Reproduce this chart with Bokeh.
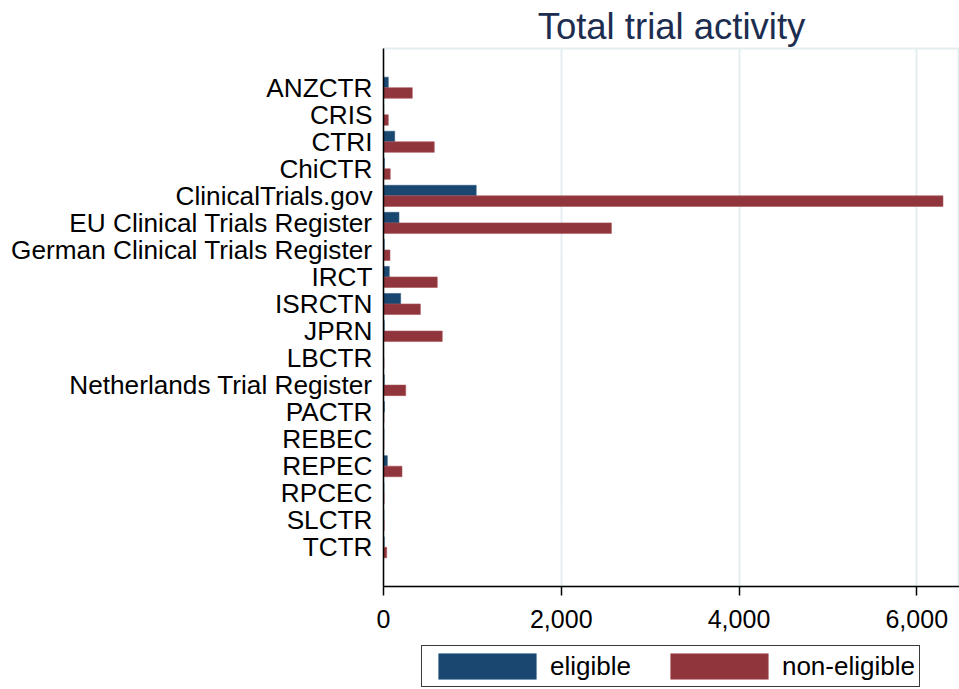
from bokeh.plotting import figure
from bokeh.layouts import column
from bokeh.models import ColumnDataSource, FactorRange, Range1d, FixedTicker, NumeralTickFormatter, Legend, LegendItem
from bokeh.transform import dodge
from bokeh.embed import file_html
from bokeh.resources import INLINE

registries = ["ANZCTR", "CRIS", "CTRI", "ChiCTR", "ClinicalTrials.gov",
              "EU Clinical Trials Register", "German Clinical Trials Register",
              "IRCT", "ISRCTN", "JPRN", "LBCTR", "Netherlands Trial Register",
              "PACTR", "REBEC", "REPEC", "RPCEC", "SLCTR", "TCTR"]
eligible = [54, 2, 126, 10, 1043, 174, 8, 65, 193, 8, 1, 8, 10, 5, 43, 5, 5, 8]
non_eligible = [324, 54, 571, 76, 6295, 2564, 73, 605, 415, 661, 5, 250, 5, 5, 208, 7, 7, 36]
x_ticks = [0, 2000, 4000, 6000]
series_labels = ["eligible", "non-eligible"]

BLUE = "#1a476f"
RED = "#90353b"
FONT = "Liberation Sans"

src = ColumnDataSource(dict(reg=registries, eligible=eligible, non_eligible=non_eligible))

p = figure(width=959, height=640, output_backend="svg", toolbar_location=None,
           y_range=FactorRange(factors=list(reversed(registries)), range_padding=0.95,
                               range_padding_units="absolute"),
           x_range=Range1d(0, 6481),
           min_border_left=383, min_border_right=0, min_border_top=48, min_border_bottom=54)

r1 = p.hbar(y=dodge("reg", 0.195, range=p.y_range), right="eligible", left=0, height=0.39,
            source=src, fill_color=BLUE, line_color="#2a5a85", line_width=0.6)
r2 = p.hbar(y=dodge("reg", -0.195, range=p.y_range), right="non_eligible", left=0, height=0.39,
            source=src, fill_color=RED, line_color="#a8545a", line_width=0.6)

p.title.text = "Total trial activity"
p.title.align = "center"
p.title.offset = 4
p.title.text_font = FONT
p.title.text_font_size = "36.5px"
p.title.text_font_style = "normal"
p.title.text_color = "#1c2d4f"
p.title.standoff = 3

p.outline_line_color = "#e4eef0"
p.outline_line_width = 2
p.ygrid.grid_line_color = None
p.xgrid.grid_line_color = "#e4eef0"
p.xgrid.grid_line_width = 2
p.xgrid.ticker = FixedTicker(ticks=x_ticks)

p.xaxis.ticker = FixedTicker(ticks=x_ticks)
p.xaxis.formatter = NumeralTickFormatter(format="0,0")
p.xaxis.major_label_text_font = FONT
p.xaxis.major_label_text_font_size = "25px"
p.xaxis.major_label_text_color = "black"
p.xaxis.major_tick_out = 9
p.xaxis.major_tick_in = 0
p.xaxis.minor_tick_line_color = None
p.xaxis.major_label_standoff = 14
p.xaxis.axis_line_color = "black"
p.xaxis.axis_line_width = 1.5
p.xaxis.major_tick_line_width = 1.5

p.yaxis.major_label_text_font = FONT
p.yaxis.major_label_text_font_size = "26.2px"
p.yaxis.major_label_text_color = "black"
p.yaxis.major_tick_line_color = None
p.yaxis.major_label_standoff = 5
p.yaxis.axis_line_color = "black"
p.yaxis.axis_line_width = 1.5

# legend strip below the chart (proxy glyphs lie outside its visible range)
p2 = figure(width=959, height=49, output_backend="svg", toolbar_location=None,
            x_axis_type=None, y_axis_type=None, x_range=Range1d(0, 1), y_range=Range1d(0, 1),
            min_border=0, outline_line_color=None)
p2.xgrid.grid_line_color = None
p2.ygrid.grid_line_color = None
l1 = p2.hbar(y=[-10], right=[1], left=[0], height=0.5, fill_color=BLUE, line_color="#2a5a85", line_width=0.6)
l2 = p2.hbar(y=[-10], right=[1], left=[0], height=0.5, fill_color=RED, line_color="#a8545a", line_width=0.6)

legend = Legend(items=[LegendItem(label=series_labels[0], renderers=[l1]),
                       LegendItem(label=series_labels[1], renderers=[l2])],
                orientation="horizontal", location=(38, 2),
                label_text_font=FONT, label_text_font_size="26px", label_text_color="black",
                glyph_width=122, glyph_height=32, label_standoff=2, spacing=27,
                padding=4, margin=0, border_line_color="#3a3a3a", border_line_width=1.3,
                border_line_alpha=1, background_fill_alpha=1)
p2.add_layout(legend, "center")

open("out.html", "w").write(file_html(column(p, p2, spacing=0), INLINE))
